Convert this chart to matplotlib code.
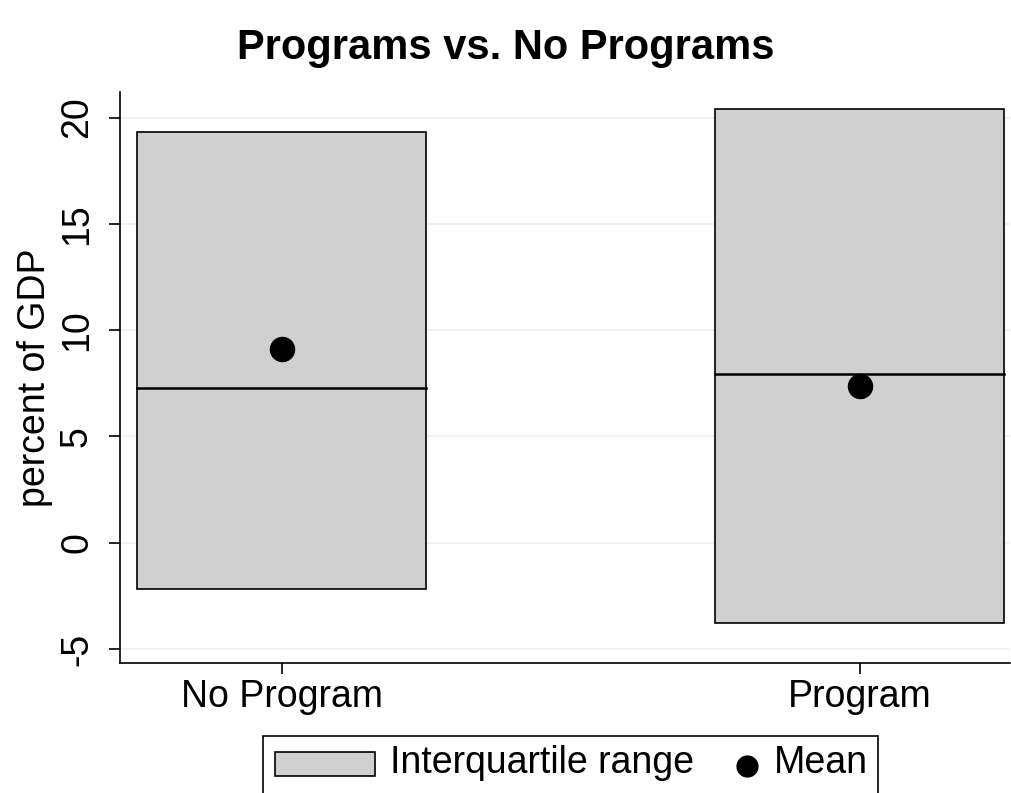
import matplotlib
matplotlib.use("Agg")
import matplotlib.pyplot as plt
from matplotlib.patches import Rectangle

# ── 数据 ──
groups = ["No Program", "Program"]
q1 = [-2.16, -3.76]
q3 = [19.34, 20.42]
median = [7.29, 7.95]
mean = [9.13, 7.39]
yticks = [-5, 0, 5, 10, 15, 20]

plt.rcParams["font.family"] = ["Liberation Sans", "DejaVu Sans"]
W, H = 1012, 793
FS = 27

fig = plt.figure(figsize=(W / 100, H / 100), dpi=100)
ax = fig.add_axes([0.1186, 0.164, 0.8794, 0.72])

hw = 0.25
for i in range(len(groups)):
    ax.add_patch(Rectangle((i - hw, q1[i]), 2 * hw, q3[i] - q1[i],
                           facecolor="#d0d0d0", edgecolor="black", linewidth=1.2, zorder=2))
    ax.plot([i - hw, i + hw], [median[i], median[i]], color="black", linewidth=1.8, zorder=3)
ax.scatter(range(len(groups)), mean, s=300, color="black", zorder=4)

ax.set_xlim(-0.28, 1.26)
ax.set_ylim(-5.65, 21.2)
ax.set_xticks(range(len(groups)))
ax.set_xticklabels(groups, fontsize=FS)
ax.set_yticks(yticks)
ax.set_yticklabels([str(t) for t in yticks], fontsize=FS, rotation=90, va="center")
ax.tick_params(axis="both", length=8, width=1.2)
ax.tick_params(axis="y", pad=10)
ax.set_ylabel("percent of GDP", fontsize=FS, labelpad=4)
ax.grid(axis="y", color="#eaf0f2", linewidth=1.2, zorder=0)
ax.set_axisbelow(True)
for s in ["top", "right"]:
    ax.spines[s].set_visible(False)
ax.spines["left"].set_linewidth(1.2)
ax.spines["bottom"].set_linewidth(1.2)

fig.text(0.5, 0.94, "Programs vs. No Programs", ha="center", va="center",
         fontsize=30, fontweight="bold")

# ── 图例（手动绘制，底部被裁切）──
def px(x, y):
    return x / W, 1 - y / H

x0, y0 = px(263, 800)
x1, y1 = px(878, 736)
fig.patches.append(Rectangle((x0, y0), x1 - x0, y1 - y0, transform=fig.transFigure,
                             facecolor="white", edgecolor="black", linewidth=1.2))
a0, b0 = px(275, 776)
a1, b1 = px(375, 752)
fig.patches.append(Rectangle((a0, b0), a1 - a0, b1 - b0, transform=fig.transFigure,
                             facecolor="#d0d0d0", edgecolor="black", linewidth=1.2))
tx, ty = px(390, 763)
fig.text(tx, ty, "Interquartile range", fontsize=FS, va="center", ha="left")
mx, my = px(747, 766)
fig.add_artist(plt.Line2D([mx], [my], marker="o", color="black", markersize=15,
                          transform=fig.transFigure))
tx, ty = px(774, 763)
fig.text(tx, ty, "Mean", fontsize=FS, va="center", ha="left")

fig.savefig("out.png", dpi=100)
